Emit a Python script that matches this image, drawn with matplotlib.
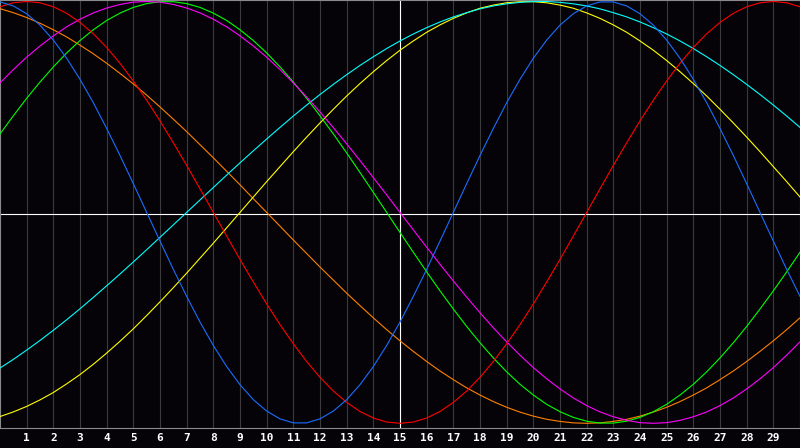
import matplotlib
matplotlib.use("Agg")
import matplotlib.pyplot as plt

# sample positions (half days, 0..30)
days = [i / 2 for i in range(61)]
tick_days = list(range(1, 30))
tick_labels = [str(d) for d in tick_days]

# curve values at every half day, range -1..1
physical = [0.998, 0.979, 0.942, 0.888, 0.817, 0.731, 0.631, 0.520, 0.398, 0.270,
            0.136, 0.0, -0.136, -0.270, -0.398, -0.520, -0.631, -0.731, -0.817, -0.888,
            -0.942, -0.979, -0.998, -0.998, -0.979, -0.942, -0.888, -0.817, -0.731, -0.631,
            -0.520, -0.398, -0.270, -0.136, 0.0, 0.136, 0.270, 0.398, 0.520, 0.631,
            0.731, 0.817, 0.888, 0.942, 0.979, 0.998, 0.998, 0.979, 0.942, 0.888,
            0.817, 0.731, 0.631, 0.520, 0.398, 0.270, 0.136, 0.0, -0.136, -0.270,
            -0.398]
emotional = [0.975, 0.994, 1.0, 0.994, 0.975, 0.944, 0.901, 0.847, 0.782, 0.707,
             0.623, 0.532, 0.434, 0.330, 0.223, 0.112, 0.0, -0.112, -0.223, -0.330,
             -0.434, -0.532, -0.623, -0.707, -0.782, -0.847, -0.901, -0.944, -0.975, -0.994,
             -1.0, -0.994, -0.975, -0.944, -0.901, -0.847, -0.782, -0.707, -0.623, -0.532,
             -0.434, -0.330, -0.223, -0.112, 0.0, 0.112, 0.223, 0.330, 0.434, 0.532,
             0.623, 0.707, 0.782, 0.847, 0.901, 0.944, 0.975, 0.994, 1.0, 0.994,
             0.975]
intellectual = [0.372, 0.458, 0.541, 0.618, 0.690, 0.756, 0.815, 0.866, 0.910, 0.945,
                0.972, 0.990, 0.999, 0.999, 0.990, 0.972, 0.945, 0.910, 0.866, 0.815,
                0.756, 0.690, 0.618, 0.541, 0.458, 0.372, 0.282, 0.189, 0.095, 0.0,
                -0.095, -0.189, -0.282, -0.372, -0.458, -0.541, -0.618, -0.690, -0.756, -0.815,
                -0.866, -0.910, -0.945, -0.972, -0.990, -0.999, -0.999, -0.990, -0.972, -0.945,
                -0.910, -0.866, -0.815, -0.756, -0.690, -0.618, -0.541, -0.458, -0.372, -0.282,
                -0.189]
intuitive = [0.614, 0.677, 0.736, 0.789, 0.837, 0.880, 0.916, 0.946, 0.969, 0.986,
             0.997, 1.0, 0.997, 0.986, 0.969, 0.946, 0.916, 0.880, 0.837, 0.789,
             0.736, 0.677, 0.614, 0.547, 0.476, 0.402, 0.325, 0.246, 0.165, 0.083,
             0.0, -0.083, -0.165, -0.246, -0.325, -0.402, -0.476, -0.547, -0.614, -0.677,
             -0.736, -0.789, -0.837, -0.880, -0.916, -0.946, -0.969, -0.986, -0.997, -1.0,
             -0.997, -0.986, -0.969, -0.946, -0.916, -0.880, -0.837, -0.789, -0.736, -0.677,
             -0.614]
aesthetic = [-0.968, -0.946, -0.920, -0.889, -0.854, -0.813, -0.769, -0.720, -0.667, -0.611,
             -0.552, -0.489, -0.424, -0.357, -0.288, -0.217, -0.146, -0.073, 0.0, 0.073,
             0.146, 0.217, 0.288, 0.357, 0.424, 0.489, 0.552, 0.611, 0.667, 0.720,
             0.769, 0.813, 0.854, 0.889, 0.920, 0.946, 0.968, 0.983, 0.994, 0.999,
             0.999, 0.994, 0.983, 0.968, 0.946, 0.920, 0.889, 0.854, 0.813, 0.769,
             0.720, 0.667, 0.611, 0.552, 0.489, 0.424, 0.357, 0.288, 0.217, 0.146,
             0.073]
awareness = [0.966, 0.947, 0.924, 0.897, 0.866, 0.832, 0.793, 0.752, 0.707, 0.659,
             0.609, 0.556, 0.5, 0.442, 0.383, 0.321, 0.259, 0.195, 0.131, 0.065,
             0.0, -0.065, -0.131, -0.195, -0.259, -0.321, -0.383, -0.442, -0.5, -0.556,
             -0.609, -0.659, -0.707, -0.752, -0.793, -0.832, -0.866, -0.897, -0.924, -0.947,
             -0.966, -0.981, -0.991, -0.998, -1.0, -0.998, -0.991, -0.981, -0.966, -0.947,
             -0.924, -0.897, -0.866, -0.832, -0.793, -0.752, -0.707, -0.659, -0.609, -0.556,
             -0.5]
spiritual = [-0.738, -0.697, -0.653, -0.607, -0.559, -0.509, -0.457, -0.403, -0.348, -0.292,
             -0.235, -0.177, -0.118, -0.059, 0.0, 0.059, 0.118, 0.177, 0.235, 0.292,
             0.348, 0.403, 0.457, 0.509, 0.559, 0.607, 0.653, 0.697, 0.738, 0.777,
             0.813, 0.846, 0.876, 0.903, 0.927, 0.947, 0.965, 0.979, 0.989, 0.996,
             1.0, 1.0, 0.996, 0.989, 0.979, 0.965, 0.947, 0.927, 0.903, 0.876,
             0.846, 0.813, 0.777, 0.738, 0.697, 0.653, 0.607, 0.559, 0.509, 0.457,
             0.403]

series = [
    (awareness, "#ff8000"),
    (aesthetic, "#ffff00"),
    (spiritual, "#00ffff"),
    (intellectual, "#00ff00"),
    (intuitive, "#ff00ff"),
    (emotional, "#ff0000"),
    (physical, "#1a6eff"),
]

bg = "#050308"
fig = plt.figure(figsize=(8, 4.48), dpi=100, facecolor=bg)
ax = fig.add_axes([0, 20 / 448, 1, 428 / 448])
ax.set_facecolor(bg)
ymin, ymax = -1.0223, 1.0071
ax.set_xlim(0, 30)
ax.set_ylim(ymin, ymax)

for d in tick_days:
    ax.axvline(d, color="#3a3a3a", lw=0.8, zorder=1)
ax.axvline(15, color="white", lw=0.8, zorder=2)
ax.axhline((ymin + ymax) / 2, color="white", lw=0.8, zorder=2)

for vals, col in series:
    ax.plot(days, vals, color=col, lw=0.8, zorder=3)

ax.set_xticks(tick_days)
ax.set_xticklabels(tick_labels, family="DejaVu Sans Mono", fontweight="bold")
ax.tick_params(axis="x", length=0, pad=3.5, colors="white", labelsize=8)
ax.set_yticks([])
for s in ax.spines.values():
    s.set_color("#8a8a8a")
    s.set_linewidth(0.8)

fig.savefig("out.png", dpi=100, facecolor=bg)
